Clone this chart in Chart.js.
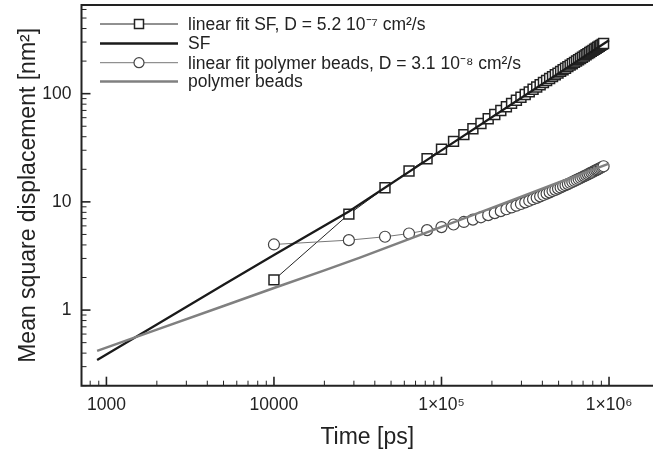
<!DOCTYPE html>
<html><head><meta charset="utf-8">
<script src="https://cdn.jsdelivr.net/npm/chart.js@4.4.1/dist/chart.umd.min.js"></script>
<style>html,body{margin:0;padding:0;background:#fff;overflow:hidden}#wrap{width:653px;height:451px}</style>
</head><body><div id="wrap"><canvas id="c" width="653" height="451"></canvas></div>
<script>
const timePs = [10000, 28000, 46000, 64000, 82000, 100000, 118000, 136000, 154000, 172000,
  190000, 208000, 226000, 244000, 262000, 280000, 298000, 316000, 334000, 352000,
  370000, 388000, 406000, 424000, 442000, 460000, 478000, 496000, 514000, 532000,
  550000, 568000, 586000, 604000, 622000, 640000, 658000, 676000, 694000, 712000,
  730000, 748000, 766000, 784000, 802000, 820000, 838000, 856000, 874000, 892000,
  910000, 928000];
const sfFitMsd = [1.9, 7.7, 13.5, 19.3, 25.0, 30.6, 36.2, 41.8, 47.4, 53.0,
  58.6, 64.3, 70.0, 75.7, 81.3, 87.0, 92.7, 98.3, 104.0, 109.7,
  115.3, 121.0, 126.7, 132.4, 138.0, 143.7, 149.4, 155.0, 160.7, 166.4,
  172.0, 177.7, 183.4, 189.1, 194.7, 200.4, 206.1, 211.7, 217.4, 223.1,
  228.7, 234.4, 240.1, 245.8, 251.4, 257.1, 262.8, 268.4, 274.1, 279.8,
  285.5, 291.1];
const beadsFitMsd = [4.04, 4.43, 4.76, 5.1, 5.48, 5.85, 6.18, 6.52, 6.86, 7.2,
  7.54, 7.87, 8.21, 8.55, 8.88, 9.22, 9.56, 9.89, 10.23, 10.57,
  10.90, 11.24, 11.58, 11.91, 12.25, 12.59, 12.92, 13.26, 13.59, 13.93,
  14.27, 14.60, 14.94, 15.28, 15.61, 15.95, 16.29, 16.62, 16.96, 17.30,
  17.63, 17.97, 18.31, 18.64, 18.98, 19.32, 19.65, 19.99, 20.33, 20.66,
  21.00, 21.34];
const sfCurveTime = [880, 2000, 5000, 10000, 28000, 100000, 300000, 1000000];
const sfCurveMsd = [0.345, 0.735, 1.71, 3.23, 8.15, 29.9, 91.6, 312];
const beadsCurveTime = [880, 2000, 5000, 10000, 20000, 32600, 50000, 100000, 200000, 500000, 1000000];
const beadsCurveMsd = [0.42, 0.66, 1.09, 1.60, 2.33, 3.05, 3.92, 5.88, 8.81, 15.1, 22.6];
const xTickValues = [1000, 10000, 100000, 1000000];
const xTickLabels = ['1000', '10000', '1×10⁵', '1×10⁶'];
const yTickValues = [1, 10, 100];
const yTickLabels = ['1', '10', '100'];
const seriesLabels = ['linear fit SF, D = 5.2 10⁻⁷ cm²/s', 'SF', 'linear fit polymer beads, D = 3.1 10⁻⁸ cm²/s', 'polymer beads'];

const FONT = "'Liberation Sans', Arial, Helvetica, sans-serif";
const INK = '#222';

const pts = (xs, ys) => xs.map((x, i) => ({x: x, y: ys[i]}));

const framePlugin = {
  id: 'frame',
  afterDraw(chart) {
    const ctx = chart.ctx, a = chart.chartArea;
    const xs = chart.scales.x, ys = chart.scales.y;
    ctx.save();
    ctx.strokeStyle = INK;
    ctx.lineCap = 'butt';
    function tickSet(scale, horizontal) {
      const out = [];
      for (let k = -2; k <= 7; k++) {
        for (let m = 1; m <= 9; m++) {
          const v = m * Math.pow(10, k);
          if (v < scale.min || v > scale.max) continue;
          out.push({v: v, major: m === 1});
        }
      }
      out.forEach(t => {
        const p = scale.getPixelForValue(t.v);
        ctx.lineWidth = t.major ? 1.6 : 1;
        const len = t.major ? 9 : 5;
        ctx.beginPath();
        if (horizontal) { ctx.moveTo(p, a.bottom); ctx.lineTo(p, a.bottom - len); }
        else { ctx.moveTo(a.left, p); ctx.lineTo(a.left + len, p); }
        ctx.stroke();
      });
    }
    tickSet(xs, true);
    tickSet(ys, false);
    ctx.lineWidth = 2;
    ctx.beginPath();
    ctx.moveTo(a.left, a.top); ctx.lineTo(chart.width, a.top);
    ctx.moveTo(a.left, a.top - 1); ctx.lineTo(a.left, a.bottom + 1);
    ctx.moveTo(a.left - 1, a.bottom); ctx.lineTo(chart.width, a.bottom);
    ctx.stroke();

    const rows = [24, 43.5, 62.7, 81.5];
    const x1 = 100, x2 = 178, xm = 139, xt = 188;
    ctx.font = '17.5px ' + FONT;
    ctx.textBaseline = 'middle';
    ctx.textAlign = 'left';
    chart.data.datasets.forEach((ds, i) => {
      const y = rows[i];
      ctx.strokeStyle = ds.borderColor;
      ctx.lineWidth = ds.borderWidth;
      ctx.beginPath(); ctx.moveTo(x1, y); ctx.lineTo(x2, y); ctx.stroke();
      if (ds.pointRadius > 0) {
        ctx.fillStyle = '#fff';
        ctx.strokeStyle = ds.pointBorderColor;
        ctx.lineWidth = ds.pointBorderWidth;
        ctx.beginPath();
        if (ds.pointStyle === 'rect') ctx.rect(xm - 4.5, y - 4.5, 9, 9);
        else ctx.arc(xm, y, 5, 0, Math.PI * 2);
        ctx.fill(); ctx.stroke();
      }
      ctx.fillStyle = INK;
      ctx.fillText(ds.label, xt, y + 1);
    });
    ctx.restore();
  }
};

new Chart(document.getElementById('c'), {
  type: 'scatter',
  data: {
    datasets: [
      {label: seriesLabels[0], data: pts(timePs, sfFitMsd), showLine: true,
       borderColor: '#222', borderWidth: 1, pointStyle: 'rect', pointRadius: 7,
       pointBorderColor: '#222', pointBorderWidth: 1.5, pointBackgroundColor: '#fff', order: 4},
      {label: seriesLabels[1], data: pts(sfCurveTime, sfCurveMsd), showLine: true,
       borderColor: '#1a1a1a', borderWidth: 2.3, pointRadius: 0, order: 2},
      {label: seriesLabels[2], data: pts(timePs, beadsFitMsd), showLine: true,
       borderColor: '#777', borderWidth: 1, pointStyle: 'circle', pointRadius: 5.5,
       pointBorderColor: '#444', pointBorderWidth: 1.2, pointBackgroundColor: '#fff', order: 3},
      {label: seriesLabels[3], data: pts(beadsCurveTime, beadsCurveMsd), showLine: true,
       borderColor: '#808080', borderWidth: 2.5, pointRadius: 0, order: 1}
    ]
  },
  options: {
    responsive: false, animation: false, devicePixelRatio: 1,
    layout: {autoPadding: false, padding: {top: 5, right: 0, left: 0, bottom: 0}},
    plugins: {legend: {display: false}, tooltip: {enabled: false}},
    scales: {
      x: {
        type: 'logarithmic', min: 710, max: 1830000,
        grid: {display: false, drawTicks: false}, border: {display: false},
        afterBuildTicks: s => { s.ticks = xTickValues.map(v => ({value: v, major: true})); },
        afterFit: s => { s.height = 65.3; s.paddingLeft = 0; s.paddingRight = 0; },
        ticks: {autoSkip: false, maxRotation: 0, padding: 9, color: INK,
                font: {family: FONT, size: 17.5},
                callback: (v, i) => xTickLabels[i]},
        title: {display: true, text: 'Time [ps]', color: INK,
                font: {family: FONT, size: 23}, padding: {top: 0, bottom: 0}}
      },
      y: {
        type: 'logarithmic', min: 0.2, max: 660,
        grid: {display: false, drawTicks: false}, border: {display: false},
        afterBuildTicks: s => { s.ticks = yTickValues.map(v => ({value: v, major: true})); },
        afterFit: s => { s.width = 81.5; s.paddingTop = 0; s.paddingBottom = 0; },
        ticks: {autoSkip: false, padding: 10, color: INK,
                font: {family: FONT, size: 17.5},
                callback: (v, i) => yTickLabels[i]},
        title: {display: true, text: 'Mean square displacement [nm²]', color: INK,
                font: {family: FONT, size: 23}, padding: {top: 15, bottom: 0}}
      }
    }
  },
  plugins: [framePlugin]
});
</script>
</body></html>
